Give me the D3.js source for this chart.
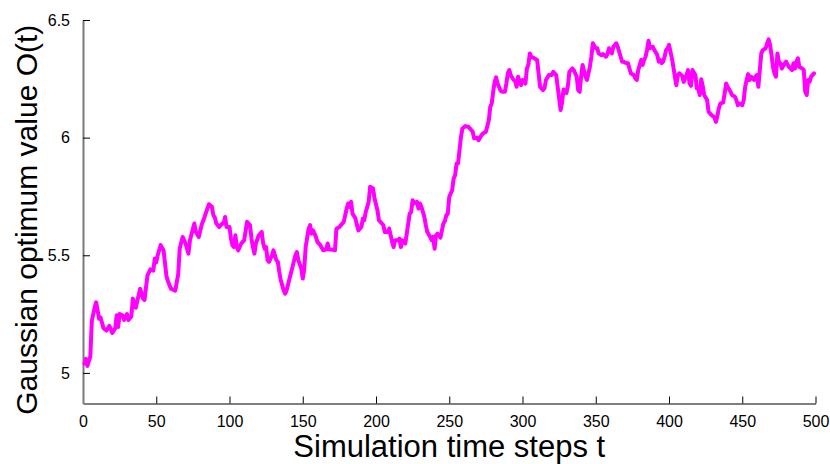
<!DOCTYPE html>
<html>
<head>
<meta charset="utf-8">
<script src="https://cdn.jsdelivr.net/npm/d3@7"></script>
<style>
  html, body { margin: 0; padding: 0; background: #fff; }
  svg { display: block; font-family: "Liberation Sans", Arial, sans-serif; }
</style>
</head>
<body>
<svg id="chart" width="830" height="464"></svg>
<script>
// Simulation time step t
const steps = [
  1,2,3,5,6,8,9,11,12,14,16,18,20,22,23,24,25,27,28,30,31,33,34,36,38,39,41,42,44,46,48,49,
  50,51,53,55,57,58,60,63,65,66,68,70,72,73,76,77,79,81,83,85,86,88,89,90,91,92,93,95,96,97,98,
  100,101,102,103,104,105,106,108,109,110,112,113,114,115,116,117,118,120,121,122,123,124,125,126,127,129,
  130,131,132,133,134,135,137,138,139,141,143,145,146,147,149,150,151,152,154,155,156,157,159,
  160,162,164,166,167,168,170,172,173,175,176,178,180,181,182,183,184,186,187,188,190,191,192,193,195,196,198,199,
  201,202,204,205,206,208,209,210,211,212,213,215,216,217,218,220,221,223,224,225,226,228,229,
  230,231,233,234,235,237,238,239,240,241,242,244,245,246,247,248,249,250,252,253,254,255,256,257,258,259,
  261,263,264,266,267,269,270,272,273,275,277,278,279,280,281,282,283,285,286,288,289,
  290,291,292,294,295,296,297,298,299,300,302,303,304,305,306,308,310,311,312,314,315,316,318,
  320,321,323,324,325,326,327,328,330,331,332,334,335,337,338,339,340,341,343,344,346,347,348,
  350,351,352,354,355,357,358,359,361,362,364,365,367,368,369,371,372,373,374,376,377,378,379,
  381,382,383,384,385,386,387,389,390,392,393,394,395,396,397,398,399,400,402,403,404,405,406,407,409,
  410,412,413,414,415,416,418,419,420,421,422,423,424,426,427,429,431,432,433,434,435,437,438,439,
  440,442,443,445,446,447,448,450,451,452,453,454,455,456,458,459,460,461,462,463,464,466,467,468,469,
  470,471,472,473,474,475,476,477,479,480,481,482,484,485,486,487,488,489,491,492,493,494,495,496,497,499
];

// Gaussian optimum value O(t)
const optimum = [
  5.04,5.06,5.03,5.07,5.22,5.28,5.30,5.23,5.235,5.19,5.18,5.20,5.17,5.19,5.245,5.195,5.25,5.245,5.225,5.25,5.225,5.24,5.316,5.277,5.33,5.358,5.316,5.31,5.415,5.44,5.435,5.486,
  5.47,5.50,5.543,5.52,5.41,5.39,5.358,5.35,5.42,5.528,5.578,5.55,5.507,5.564,5.635,5.60,5.578,5.63,5.663,5.70,5.717,5.706,5.67,5.66,5.635,5.628,5.62,5.635,5.635,5.663,5.62,
  5.62,5.571,5.543,5.535,5.585,5.535,5.521,5.55,5.557,5.564,5.642,5.635,5.628,5.571,5.535,5.507,5.55,5.585,5.592,5.599,5.55,5.528,5.535,5.479,5.472,5.50,
  5.521,5.50,5.479,5.472,5.429,5.394,5.351,5.337,5.351,5.401,5.45,5.50,5.514,5.479,5.443,5.401,5.44,5.535,5.613,5.628,5.592,5.606,5.578,
  5.557,5.543,5.521,5.525,5.55,5.525,5.524,5.521,5.613,5.62,5.628,5.642,5.699,5.72,5.706,5.727,5.677,5.656,5.628,5.606,5.62,5.656,5.649,5.684,5.727,5.791,5.784,5.741,
  5.691,5.649,5.635,5.628,5.599,5.599,5.613,5.585,5.557,5.535,5.564,5.564,5.571,5.535,5.564,5.55,5.592,5.677,5.684,5.734,5.72,5.727,5.699,
  5.72,5.706,5.663,5.628,5.599,5.578,5.564,5.578,5.528,5.585,5.592,5.575,5.606,5.635,5.645,5.67,5.676,5.748,5.777,5.826,5.84,5.89,5.89,5.947,6.003,6.039,
  6.049,6.046,6.04,6.025,5.997,6.0,5.989,6.01,6.018,6.025,6.074,6.131,6.145,6.195,6.237,6.256,6.23,6.2,6.195,6.195,6.231,
  6.273,6.287,6.265,6.245,6.24,6.216,6.259,6.24,6.223,6.245,6.23,6.294,6.31,6.358,6.344,6.337,6.33,6.273,6.216,6.202,6.21,6.245,6.266,
  6.266,6.28,6.266,6.216,6.167,6.117,6.15,6.205,6.19,6.22,6.28,6.294,6.287,6.259,6.202,6.195,6.259,6.309,6.259,6.245,6.301,6.344,6.401,
  6.38,6.38,6.358,6.35,6.355,6.344,6.355,6.38,6.358,6.386,6.401,6.386,6.344,6.323,6.323,6.316,6.316,6.294,6.273,6.266,6.252,6.245,6.287,
  6.33,6.309,6.33,6.344,6.372,6.412,6.38,6.386,6.372,6.351,6.323,6.33,6.316,6.323,6.344,6.372,6.38,6.394,6.337,6.30,6.259,6.223,6.266,6.273,6.263,
  6.237,6.266,6.287,6.231,6.22,6.287,6.266,6.209,6.209,6.181,6.248,6.22,6.181,6.16,6.11,6.096,6.086,6.067,6.09,6.124,6.145,6.15,6.188,6.23,
  6.216,6.195,6.181,6.174,6.16,6.138,6.145,6.138,6.16,6.216,6.245,6.27,6.245,6.259,6.245,6.259,6.266,6.216,6.287,6.358,6.372,6.38,6.40,6.418,6.394,
  6.351,6.30,6.273,6.259,6.358,6.323,6.316,6.294,6.316,6.323,6.309,6.30,6.287,6.316,6.294,6.323,6.337,6.30,6.294,6.287,6.195,6.181,6.245,6.238,6.259,6.273
];

const xTicks = [0, 50, 100, 150, 200, 250, 300, 350, 400, 450, 500];
const yTicks = [5, 5.5, 6, 6.5];

const xLabel = "Simulation time steps t";
const yLabel = "Gaussian optimum value O(t)";

const svg = d3.select("#chart");
const plotLeft = 83, plotRight = 815.5, plotTop = 20, plotBottom = 403.5;

const x = d3.scaleLinear().domain([0, 500]).range([plotLeft, plotRight]);
const y = d3.scaleLinear().domain([4.87, 6.5]).range([plotBottom, plotTop]);

const fmt = d => String(d);

// x axis, ticks pointing into the plot
const gx = svg.append("g")
  .attr("transform", `translate(0,${plotBottom})`)
  .call(d3.axisBottom(x).tickValues(xTicks).tickFormat(fmt).tickSizeInner(-7).tickSizeOuter(0).tickPadding(12));
gx.select(".domain").attr("stroke", "#000").attr("stroke-width", 1.2);
gx.selectAll(".tick line").attr("stroke", "#000");
gx.selectAll(".tick text").attr("font-size", 16).attr("fill", "#000")
  .attr("font-family", "'Liberation Sans', Arial, sans-serif");

// y axis, ticks pointing into the plot
const gy = svg.append("g")
  .attr("transform", `translate(${plotLeft},0)`)
  .call(d3.axisLeft(y).tickValues(yTicks).tickFormat(fmt).tickSizeInner(-7).tickSizeOuter(0).tickPadding(13));
gy.select(".domain").attr("stroke", "#7a7a7a").attr("stroke-width", 2);
gy.selectAll(".tick line").attr("stroke", "#000");
gy.selectAll(".tick text").attr("font-size", 16).attr("fill", "#000")
  .attr("font-family", "'Liberation Sans', Arial, sans-serif");

// O(t) trajectory
const series = steps.map((t, i) => ({ t, v: optimum[i] }));
const line = d3.line().x(d => x(d.t)).y(d => y(d.v));
svg.append("path")
  .datum(series)
  .attr("d", line)
  .attr("fill", "none")
  .attr("stroke", "#ff00ff")
  .attr("stroke-width", 4)
  .attr("stroke-linejoin", "round")
  .attr("stroke-linecap", "round");

// axis titles
svg.append("text")
  .attr("x", (plotLeft + plotRight) / 2)
  .attr("y", 456.5)
  .attr("text-anchor", "middle")
  .attr("font-size", 31)
  .attr("fill", "#000")
  .text(xLabel);

svg.append("text")
  .attr("transform", `translate(36.5,${(plotTop + plotBottom) / 2 + 8}) rotate(-90)`)
  .attr("text-anchor", "middle")
  .attr("font-size", 30)
  .attr("fill", "#000")
  .text(yLabel);
</script>
</body>
</html>
